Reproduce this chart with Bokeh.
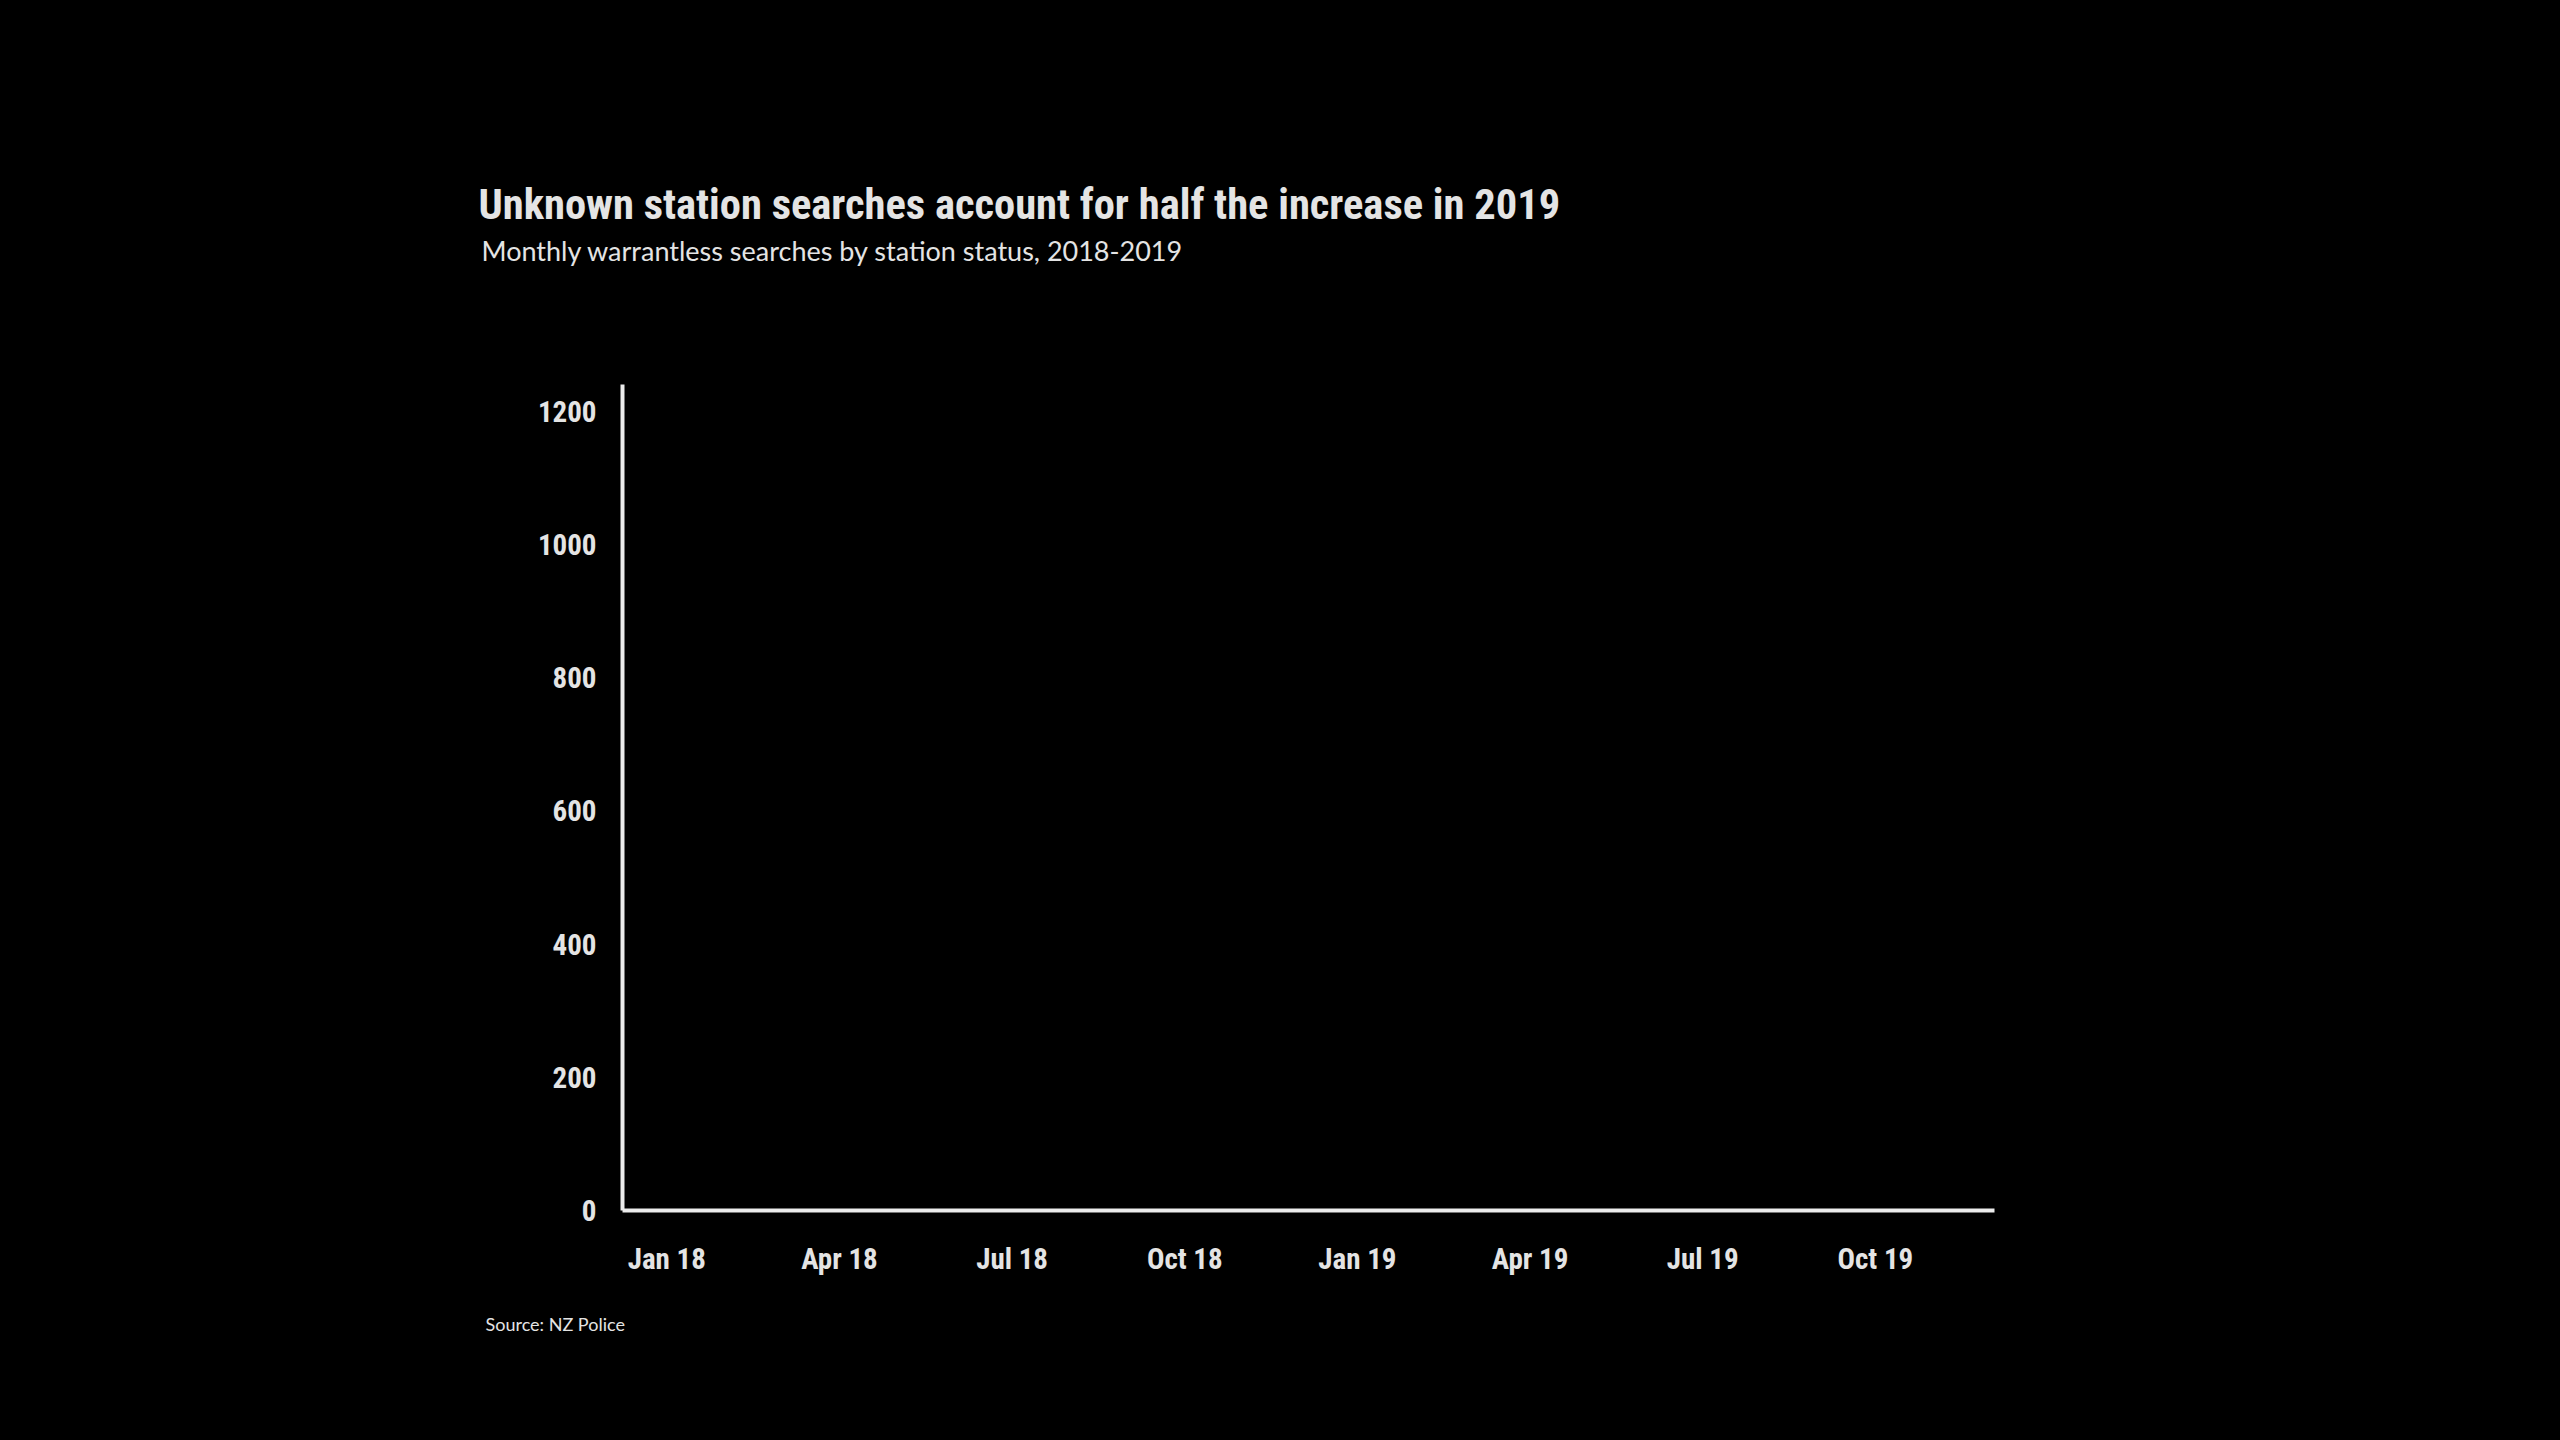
from bokeh.plotting import figure
from bokeh.models import Range1d, FixedTicker, Title
from bokeh.embed import file_html
from bokeh.resources import INLINE

# ---- data (the reference chart shows only empty axes) ----
months = ["Jan 18", "Feb 18", "Mar 18", "Apr 18", "May 18", "Jun 18",
          "Jul 18", "Aug 18", "Sep 18", "Oct 18", "Nov 18", "Dec 18",
          "Jan 19", "Feb 19", "Mar 19", "Apr 19", "May 19", "Jun 19",
          "Jul 19", "Aug 19", "Sep 19", "Oct 19", "Nov 19", "Dec 19"]
x_tick_labels = ["Jan 18", "Apr 18", "Jul 18", "Oct 18",
                 "Jan 19", "Apr 19", "Jul 19", "Oct 19"]
y_ticks = [0, 200, 400, 600, 800, 1000, 1200]

title_text = "Unknown station searches account for half the increase in 2019"
subtitle_text = "Monthly warrantless searches by station status, 2018-2019"
source_text = "Source: NZ Police"

TXT = "#e4e4e4"
HEAD = "Roboto Condensed, Roboto"

W, H = 2544, 1424
p = figure(width=W, height=H, output_backend="svg", toolbar_location=None,
           title=None,
           x_range=Range1d(-0.77, 23.07), y_range=Range1d(0, 1240),
           min_border_left=622, min_border_right=550,
           min_border_top=384, min_border_bottom=214)
p.background_fill_color = "black"
p.border_fill_color = "black"
p.outline_line_color = None
p.grid.visible = False

tick_pos = [months.index(m) for m in x_tick_labels]
p.xaxis.ticker = FixedTicker(ticks=tick_pos)
p.xaxis.major_label_overrides = {i: m for i, m in zip(tick_pos, x_tick_labels)}
p.yaxis.ticker = FixedTicker(ticks=y_ticks)

for ax in (p.xaxis[0], p.yaxis[0]):
    ax.axis_line_color = "#ececec"
    ax.axis_line_width = 4
    ax.major_tick_line_color = None
    ax.minor_tick_line_color = None
    ax.major_tick_in = 0
    ax.major_tick_out = 0
    ax.major_label_text_color = TXT
    ax.major_label_text_font = HEAD
    ax.major_label_text_font_style = "bold"
    ax.major_label_text_font_size = "29px"
p.xaxis.major_label_standoff = 31
p.yaxis.major_label_standoff = 26

# closest to the frame first
p.add_layout(Title(text=subtitle_text, align="left", offset=-141,
                   text_color=TXT, text_font="Lato", text_font_style="normal",
                   text_font_size="27px", standoff=236), "above")
p.add_layout(Title(text=title_text, align="left", offset=-144,
                   text_color=TXT, text_font=HEAD, text_font_style="bold",
                   text_font_size="42.5px", standoff=-230), "above")
p.add_layout(Title(text=source_text, align="left", offset=-137,
                   text_color=TXT, text_font="Lato", text_font_style="normal",
                   text_font_size="18px", standoff=65), "below")

html = file_html(p, INLINE)
html = html.replace("<head>", "<head><style>html,body{background:#000000;}</style>", 1)
open("out.html", "w").write(html)
